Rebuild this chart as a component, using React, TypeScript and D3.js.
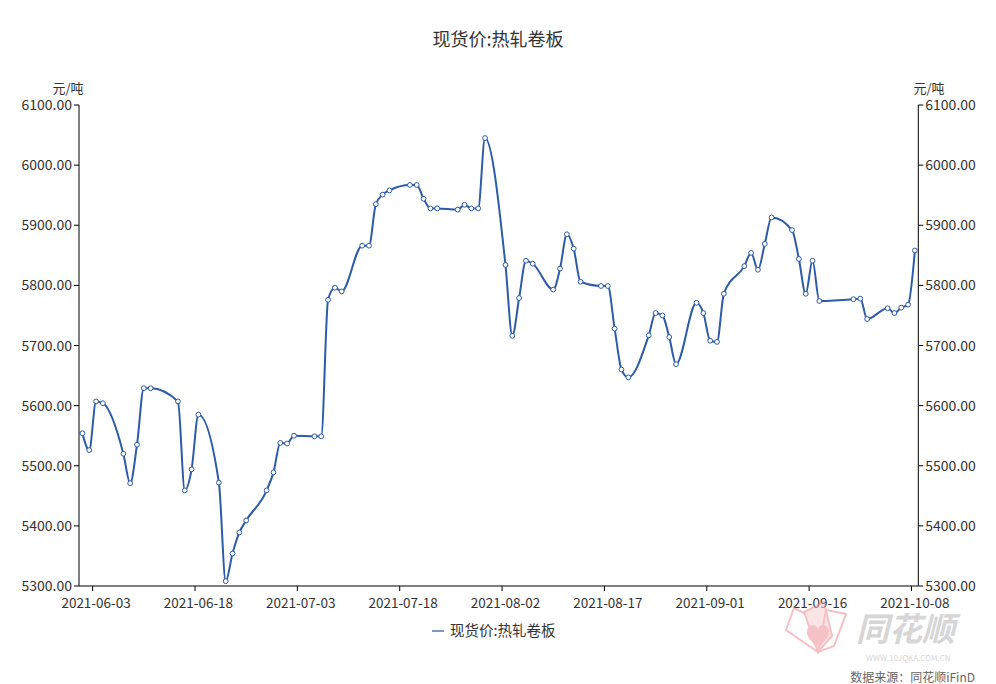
import { useMemo } from "react";
import {
  curveMonotoneX,
  line as d3Line,
  scaleBand,
  scaleLinear,
  timeDay,
  timeFormat,
} from "d3";

const TITLE = "现货价:热轧卷板";
const UNIT = "元/吨";
const SOURCE = "数据来源：同花顺iFinD";

// trading days with a quote
const tradeDates = [
  "2021-06-01", "2021-06-02", "2021-06-03", "2021-06-04",
  "2021-06-07", "2021-06-08", "2021-06-09", "2021-06-10", "2021-06-11",
  "2021-06-15", "2021-06-16", "2021-06-17", "2021-06-18",
  "2021-06-21", "2021-06-22", "2021-06-23", "2021-06-24", "2021-06-25",
  "2021-06-28", "2021-06-29", "2021-06-30", "2021-07-01", "2021-07-02",
  "2021-07-05", "2021-07-06", "2021-07-07", "2021-07-08", "2021-07-09",
  "2021-07-12", "2021-07-13", "2021-07-14", "2021-07-15", "2021-07-16",
  "2021-07-19", "2021-07-20", "2021-07-21", "2021-07-22", "2021-07-23",
  "2021-07-26", "2021-07-27", "2021-07-28", "2021-07-29", "2021-07-30",
  "2021-08-02", "2021-08-03", "2021-08-04", "2021-08-05", "2021-08-06",
  "2021-08-09", "2021-08-10", "2021-08-11", "2021-08-12", "2021-08-13",
  "2021-08-16", "2021-08-17", "2021-08-18", "2021-08-19", "2021-08-20",
  "2021-08-23", "2021-08-24", "2021-08-25", "2021-08-26", "2021-08-27",
  "2021-08-30", "2021-08-31", "2021-09-01", "2021-09-02", "2021-09-03",
  "2021-09-06", "2021-09-07", "2021-09-08", "2021-09-09", "2021-09-10",
  "2021-09-13", "2021-09-14", "2021-09-15", "2021-09-16", "2021-09-17",
  "2021-09-22", "2021-09-23", "2021-09-24",
  "2021-09-27", "2021-09-28", "2021-09-29", "2021-09-30",
  "2021-10-08",
];

const prices = [
  5554, 5526, 5607, 5604,
  5520, 5471, 5535, 5629, 5629,
  5607, 5459, 5494, 5585,
  5472, 5308, 5354, 5389, 5409,
  5459, 5489, 5538, 5537, 5550,
  5549, 5549, 5776, 5796, 5790,
  5866, 5866, 5935, 5951, 5958,
  5967, 5967, 5944, 5928, 5928,
  5926, 5934, 5928, 5928, 6045,
  5834, 5716, 5779, 5841, 5836,
  5793, 5828, 5885, 5861, 5806,
  5799, 5799, 5728, 5660, 5647,
  5717, 5754, 5750, 5714, 5669,
  5771, 5754, 5708, 5706, 5786,
  5832, 5854, 5826, 5869, 5913,
  5892, 5844, 5786, 5841, 5774,
  5777, 5778, 5744,
  5762, 5754, 5763, 5768,
  5858,
];

const xTickLabels = [
  "2021-06-03", "2021-06-18", "2021-07-03", "2021-07-18", "2021-08-02",
  "2021-08-17", "2021-09-01", "2021-09-16", "2021-10-08",
];

const yTickValues = [5300, 5400, 5500, 5600, 5700, 5800, 5900, 6000, 6100];

const WIDTH = 996;
const HEIGHT = 684;
const FONT = "'Noto Sans CJK SC', 'Microsoft YaHei', sans-serif";
const LINE_COLOR = "#2d5ba8";

export default function App() {
  const chart = useMemo(() => {
    const fmt = timeFormat("%Y-%m-%d");
    // calendar axis: every day up to the holiday, then the last quote day
    const categories = timeDay
      .range(new Date(2021, 5, 1), new Date(2021, 9, 1))
      .map(fmt)
      .concat(["2021-10-08"]);

    const xScale = scaleBand<string>()
      .domain(categories)
      .range([79, 918.3])
      .padding(0);
    const yScale = scaleLinear().domain([5300, 6100]).range([586, 105]);
    const half = xScale.bandwidth() / 2;

    const points = tradeDates.map((d, i) => ({
      x: (xScale(d) ?? 0) + half,
      y: yScale(prices[i]),
    }));

    const pathData =
      d3Line<{ x: number; y: number }>()
        .x((d) => d.x)
        .y((d) => d.y)
        .curve(curveMonotoneX)(points) ?? "";

    return { xScale, yScale, half, points, pathData };
  }, []);

  const { xScale, yScale, half, points, pathData } = chart;
  const [left, right] = xScale.range();
  const [bottom, top] = yScale.range();

  return (
    <svg
      width={WIDTH}
      height={HEIGHT}
      viewBox={`0 0 ${WIDTH} ${HEIGHT}`}
      style={{ position: "fixed", left: 0, top: 0, background: "#fff" }}
      fontFamily={FONT}
    >
      <rect width={WIDTH} height={HEIGHT} fill="#fff" />

      <text x={498} y={46} textAnchor="middle" fontSize={18} fill="#333">
        {TITLE}
      </text>

      {/* unit labels */}
      <text x={68} y={93} textAnchor="middle" fontSize={13} fill="#333">
        {UNIT}
      </text>
      <text x={929} y={93} textAnchor="middle" fontSize={13} fill="#333">
        {UNIT}
      </text>

      {/* axes */}
      <line x1={left} x2={left} y1={top} y2={bottom} stroke="#000" />
      <line x1={right} x2={right} y1={top} y2={bottom} stroke="#000" />
      <line x1={left} x2={right} y1={bottom} y2={bottom} stroke="#000" />

      {yTickValues.map((v) => (
        <g key={`y-${v}`}>
          <line
            x1={left - 5}
            x2={left}
            y1={yScale(v)}
            y2={yScale(v)}
            stroke="#000"
          />
          <text
            x={left - 7}
            y={yScale(v)}
            dy={5}
            textAnchor="end"
            fontSize={14}
            fill="#333"
          >
            {v.toFixed(2)}
          </text>
          <line
            x1={right}
            x2={right + 5}
            y1={yScale(v)}
            y2={yScale(v)}
            stroke="#000"
          />
          <text
            x={right + 7}
            y={yScale(v)}
            dy={5}
            textAnchor="start"
            fontSize={14}
            fill="#333"
          >
            {v.toFixed(2)}
          </text>
        </g>
      ))}

      {xTickLabels.map((label) => {
        const x0 = xScale(label) ?? 0;
        return (
          <g key={`x-${label}`}>
            <line
              x1={x0}
              x2={x0}
              y1={bottom}
              y2={bottom + 5}
              stroke="#000"
            />
            <text
              x={x0 + half}
              y={bottom + 22}
              textAnchor="middle"
              fontSize={13.5}
              fill="#333"
            >
              {label}
            </text>
          </g>
        );
      })}

      <path d={pathData} fill="none" stroke={LINE_COLOR} strokeWidth={2} />
      {points.map((p, i) => (
        <circle
          key={`p-${i}`}
          cx={p.x}
          cy={p.y}
          r={2.4}
          fill="#fff"
          stroke={LINE_COLOR}
          strokeWidth={1}
        />
      ))}

      {/* legend */}
      <line x1={432} x2={444} y1={631} y2={631} stroke="#7f97c4" strokeWidth={2} />
      <text x={450} y={636} fontSize={14.5} fill="#333">
        {TITLE}
      </text>

      {/* watermark */}
      <g opacity={0.55}>
        <g transform="translate(818,652)" fill="none" stroke="#f08f96" strokeWidth={2}>
          <path d="M0,0 L-32,-22 L-24,-44 L4,-30 Z" />
          <path d="M0,0 L-14,-40 L6,-50 L14,-16 Z" fill="#f8cfd2" />
          <path d="M0,0 L8,-42 L28,-38 L16,-6 Z" />
          <path d="M0,-2 C-6,-12 -14,-16 -10,-24 C-6,-30 0,-26 0,-22 C0,-26 6,-30 10,-24 C14,-16 6,-12 0,-2 Z M-3,0 L3,0 L0,-8 Z" fill="#f08f96" stroke="none" />
        </g>
        <text
          x={856}
          y={641}
          fontSize={33}
          fontWeight="bold"
          fontStyle="italic"
          fill="#b5b5b5"
        >
          同花顺
        </text>
        <text x={866} y={661} fontSize={8} fill="#b5b5b5">
          WWW.10JQKA.COM.CN
        </text>
      </g>

      <text x={975} y={682} textAnchor="end" fontSize={12} fill="#666">
        {SOURCE}
      </text>
    </svg>
  );
}
